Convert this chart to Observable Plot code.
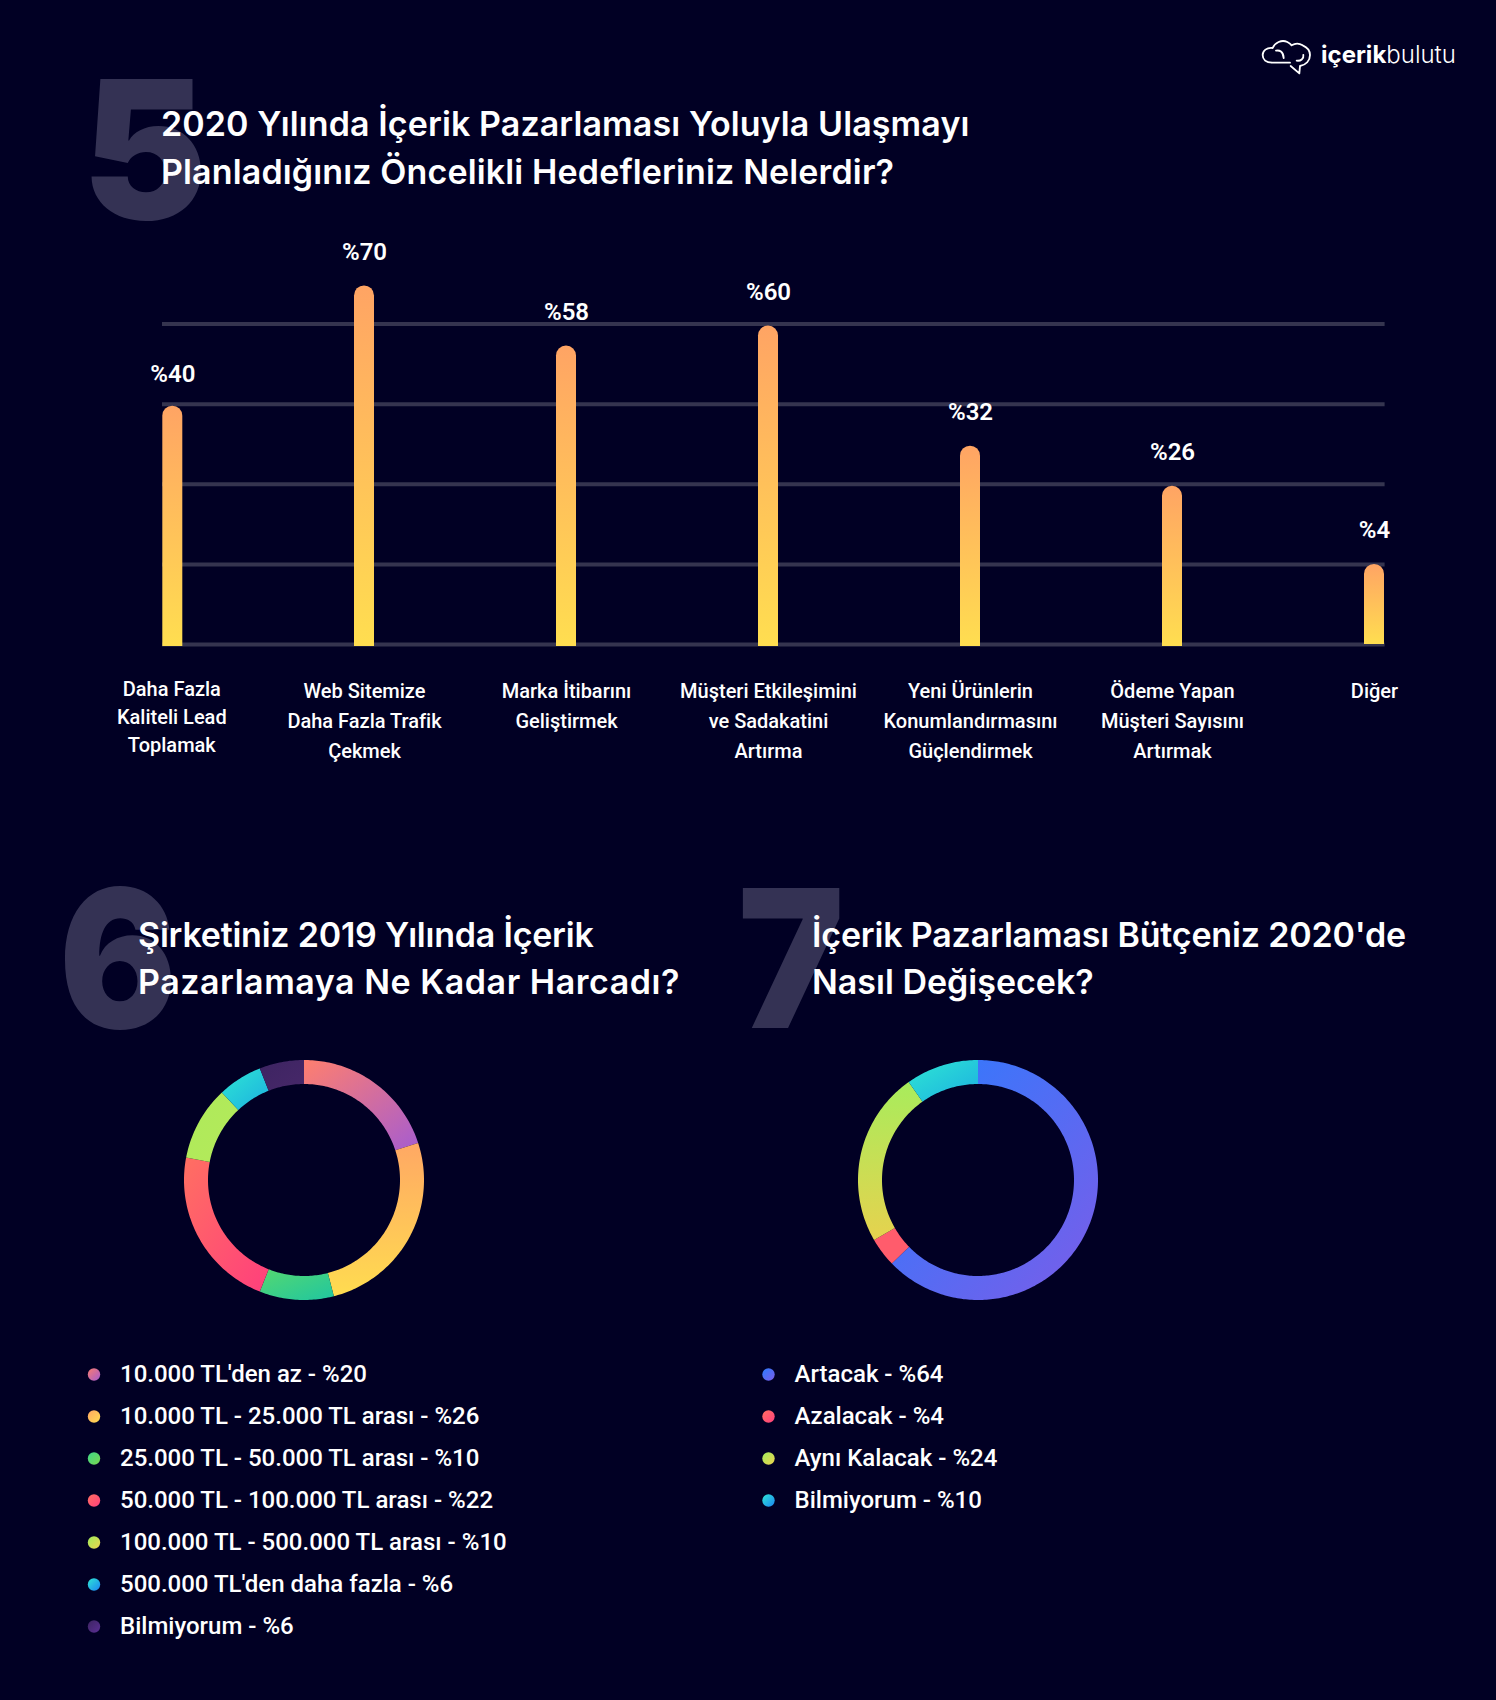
<!DOCTYPE html>
<html lang="tr">
<head>
<meta charset="utf-8">
<script src="https://cdn.jsdelivr.net/npm/d3@7"></script>
<script src="https://cdn.jsdelivr.net/npm/@observablehq/plot@0.6"></script>
<style>
  html, body { margin: 0; padding: 0; background: #010024; overflow: hidden; }
  #page { position: relative; width: 1496px; height: 1700px; background: #010024; overflow: hidden; color: #fff; }
  .abs { position: absolute; }
  .plot { position: absolute; left: 0; }
  .plot svg, .plot figure { display: block; margin: 0; background: transparent; }
  .num { position: absolute; font-family: Inter, sans-serif; font-weight: 900; font-size: 192px; line-height: 192px; color: #343254; white-space: pre; transform: scaleX(.93); transform-origin: left top; }
  .title { position: absolute; font-family: Inter, sans-serif; font-weight: 600; font-size: 34px; line-height: 47.8px; color: #fff; white-space: pre; }
</style>
</head>
<body>
<div id="page">
  <div class="num" style="left:82px;top:52.5px;transform:scaleX(.98)">5</div>
  <div class="num" style="left:59px;top:862px;transform:scaleX(.91)">6</div>
  <div class="num" style="left:738px;top:862px">7</div>
  <div class="title" style="left:161px;top:100px"><span style="letter-spacing:.1px">2020 Yılında İçerik Pazarlaması Yoluyla Ulaşmayı</span>
<span style="letter-spacing:.14px">Planladığınız Öncelikli Hedefleriniz Nelerdir?</span></div>
  <div class="title" style="left:138px;top:910.5px"><span style="letter-spacing:-.22px">Şirketiniz 2019 Yılında İçerik</span>
<span style="letter-spacing:.54px">Pazarlamaya Ne Kadar Harcadı?</span></div>
  <div class="title" style="left:812px;top:910.5px"><span style="letter-spacing:-.17px">İçerik Pazarlaması Bütçeniz 2020'de</span>
Nasıl Değişecek?</div>
  <svg class="abs" style="left:1240px;top:20px" width="76" height="70" viewBox="0 0 228 210" fill="none" stroke="#fff" stroke-width="5.5" stroke-linecap="round" stroke-linejoin="round">
    <path d="M150 128 H97 C78 128 68 118 68 105 C68 92 80 82 98 84 C104 68 125 58 142 66 C150 70 152 72 155 76 C165 70 178 70 188 76 C202 82 210 92 210 105 C210 122 198 135 180 138 L178 160 L152 138"/>
    <path d="M108 92 C118 90 130 94 131 114"/>
    <path d="M170 122 C182 124 192 116 190 105"/>
  </svg>
  <div class="abs" style="left:1321px;top:40px;font-family:Inter,sans-serif;font-size:24px;line-height:30px;color:#fff;white-space:pre"><span style="font-weight:700">içerik</span><span style="font-weight:300">bulutu</span></div>
</div>
<script>
// Chart 5
const categories = [
  "Daha Fazla\nKaliteli Lead\nToplamak",
  "Web Sitemize\nDaha Fazla Trafik\nÇekmek",
  "Marka İtibarını\nGeliştirmek",
  "Müşteri Etkileşimini\nve Sadakatini\nArtırma",
  "Yeni Ürünlerin\nKonumlandırmasını\nGüçlendirmek",
  "Ödeme Yapan\nMüşteri Sayısını\nArtırmak",
  "Diğer"
];
const printedPercent = [40, 70, 58, 60, 32, 26, 4];
// Bar heights as drawn in the picture, read against its four unlabelled gridlines.
const drawnHeight = [59.5, 89.5, 74.5, 79.5, 49.5, 39.5, 20];
const gridValues = [0, 20, 40, 60, 80];

// Chart 6
const spendLabels = ["10.000 TL'den az", "10.000 TL - 25.000 TL arası", "25.000 TL - 50.000 TL arası", "50.000 TL - 100.000 TL arası", "100.000 TL - 500.000 TL arası", "500.000 TL'den daha fazla", "Bilmiyorum"];
const spendValues = [20, 26, 10, 22, 10, 6, 6];
const spendGradients = [
  ["#ff7f6e", "#a65cd0"], ["#ffa864", "#ffdc50"], ["#55d870", "#20c6a0"], ["#ff6f62", "#ff3f7c"],
  ["#aeea5b", "#b4ea5a"], ["#2ee6d4", "#1cb0e0"], ["#3d2462", "#472869"]
];
const spendDotGradients = [
  ["#f87c70", "#a65cd0"], ["#ffa864", "#ffdc50"], ["#3fd88a", "#7ad84e"], ["#ff6f62", "#ff3f7c"],
  ["#a0ec5c", "#eed24e"], ["#2ee6d4", "#1c84f4"], ["#3d2462", "#5a2f94"]
];

// Chart 7
const budgetLabels = ["Artacak", "Azalacak", "Aynı Kalacak", "Bilmiyorum"];
const budgetValues = [64, 4, 24, 10];
const budgetGradients = [["#2b7cff", "#7c5ce8"], ["#ff5c6c", "#ff5c6c"], ["#a8ec5c", "#e6d24e"], ["#2ee6d4", "#1cb0e0"]];
const budgetDotGradients = [["#2b7cff", "#7c5ce8"], ["#ff6f62", "#ff3f7c"], ["#a0ec5c", "#eed24e"], ["#2ee6d4", "#1c84f4"]];

const page = document.getElementById("page");
const BAR_FONT = "Roboto, sans-serif";

function place(node, top, left = 0) {
  const wrap = document.createElement("div");
  wrap.className = "plot";
  wrap.style.top = top + "px";
  wrap.style.left = left + "px";
  wrap.appendChild(node);
  page.appendChild(wrap);
}

function linearGradient(id, from, to, vertical) {
  const g = d3.create("svg:linearGradient").attr("id", id)
    .attr("x1", vertical ? 0.5 : 0).attr("y1", 0).attr("x2", vertical ? 0.5 : 1).attr("y2", 1);
  g.append("stop").attr("offset", 0).attr("stop-color", from);
  g.append("stop").attr("offset", 1).attr("stop-color", to);
  return g.node();
}

function defsMark(list) {
  return () => {
    const defs = d3.create("svg:defs");
    list.forEach(([id, from, to, vertical]) => defs.node().appendChild(linearGradient(id, from, to, vertical)));
    return defs.node();
  };
}

// Bars
const rows = categories.map((c, i) => ({category: c, percent: printedPercent[i], height: drawnHeight[i], last: i === categories.length - 1}));
const firstRow = rows.slice(0, 1), otherRows = rows.slice(1);
const FIRST_NUDGE = 10.3;
function barMarks(data, dx, labelDy) {
  return [
    Plot.rectY(data, {x: "category", y1: d => d.last ? 0 : -0.5, y2: "height", fill: "url(#barGrad)", dx, rx1y2: 10, rx2y2: 10}),
    Plot.text(data, {x: "category", y: "height", text: d => "%" + d.percent, dx, dy: labelDy, fill: "#fff", fontSize: 24, fontWeight: 600, fontFamily: BAR_FONT})
  ];
}
place(Plot.plot({
  width: 1496, height: 800,
  marginLeft: 162, marginRight: 111.4, marginTop: 0, marginBottom: 156,
  style: {background: "transparent", color: "#fff", fontFamily: BAR_FONT, overflow: "visible"},
  x: {type: "band", domain: categories, range: [151.5, 1384], paddingInner: 0.901, paddingOuter: 0, axis: null},
  y: {domain: [0, 80], range: [644, 323.5], axis: null},
  marks: [
    defsMark([["barGrad", "#ffa464", "#ffde50", true]]),
    Plot.ruleY(gridValues, {stroke: "#35344f", strokeWidth: 4}),
    ...barMarks(firstRow, FIRST_NUDGE, -32),
    ...barMarks(otherRows, 0, -34),
    Plot.text(firstRow, {x: "category", text: "category", frameAnchor: "bottom", lineAnchor: "top", dx: FIRST_NUDGE - 1, dy: 31.8, lineHeight: 1.39, fill: "#fff", fontSize: 20, fontWeight: 500, fontFamily: BAR_FONT}),
    Plot.text(otherRows, {x: "category", text: "category", frameAnchor: "bottom", lineAnchor: "top", dy: 32, lineHeight: 1.5, fill: "#fff", fontSize: 20, fontWeight: 500, fontFamily: BAR_FONT})
  ]
}));

// Donuts
function arcBand(startFrac, endFrac) {
  const n = Math.max(2, Math.ceil((endFrac - startFrac) * 360));
  return d3.range(n + 1).map(k => {
    const a = 2 * Math.PI * (startFrac + (endFrac - startFrac) * k / n);
    return {xo: Math.sin(a), yo: Math.cos(a), xi: 0.8 * Math.sin(a), yi: 0.8 * Math.cos(a)};
  });
}
function donut(values, gradients, prefix, left) {
  const total = d3.sum(values);
  let cum = 0;
  const marks = [defsMark(gradients.map((g, i) => [prefix + i, g[0], g[1], prefix === "b" ? i === 2 : i === 1]))];
  values.forEach((v, i) => {
    marks.push(Plot.area(arcBand(cum / total, (cum + v) / total), {x1: "xo", y1: "yo", x2: "xi", y2: "yi", curve: "linear", fill: `url(#${prefix}${i})`}));
    cum += v;
  });
  place(Plot.plot({
    width: 300, height: 300, margin: 30,
    style: {background: "transparent"},
    x: {domain: [-1, 1], axis: null},
    y: {domain: [-1, 1], axis: null},
    marks
  }), 1030, left);
}
donut(spendValues, spendGradients, "s", 154);
donut(budgetValues, budgetGradients, "b", 828);

// Legends
function legend(labels, values, dotGradients, prefix, dotX, left) {
  const items = labels.map((l, i) => ({key: l, id: i, text: `${l} - %${values[i]}`}));
  place(Plot.plot({
    width: 640, height: 42 * labels.length,
    marginLeft: 0, marginRight: 0, marginTop: 0, marginBottom: 0,
    style: {background: "transparent", color: "#fff"},
    x: {domain: [0, 640], range: [0, 640], axis: null},
    y: {type: "band", domain: labels, axis: null, padding: 0},
    marks: [
      defsMark(dotGradients.map((g, i) => [prefix + "d" + i, g[0], g[1], false])),
      Plot.dot(items, {x: () => dotX, y: "key", r: 6.2, fill: d => `url(#${prefix}d${d.id})`}),
      Plot.text(items, {x: () => dotX + 26, y: "key", text: "text", textAnchor: "start", fill: "#fff", fontSize: 24, fontWeight: 500, fontFamily: BAR_FONT})
    ]
  }), 1353, left);
}
legend(spendLabels, spendValues, spendDotGradients, "s", 93.5, 0);
legend(budgetLabels, budgetValues, budgetDotGradients, "b", 21, 747);
</script>
</body>
</html>
